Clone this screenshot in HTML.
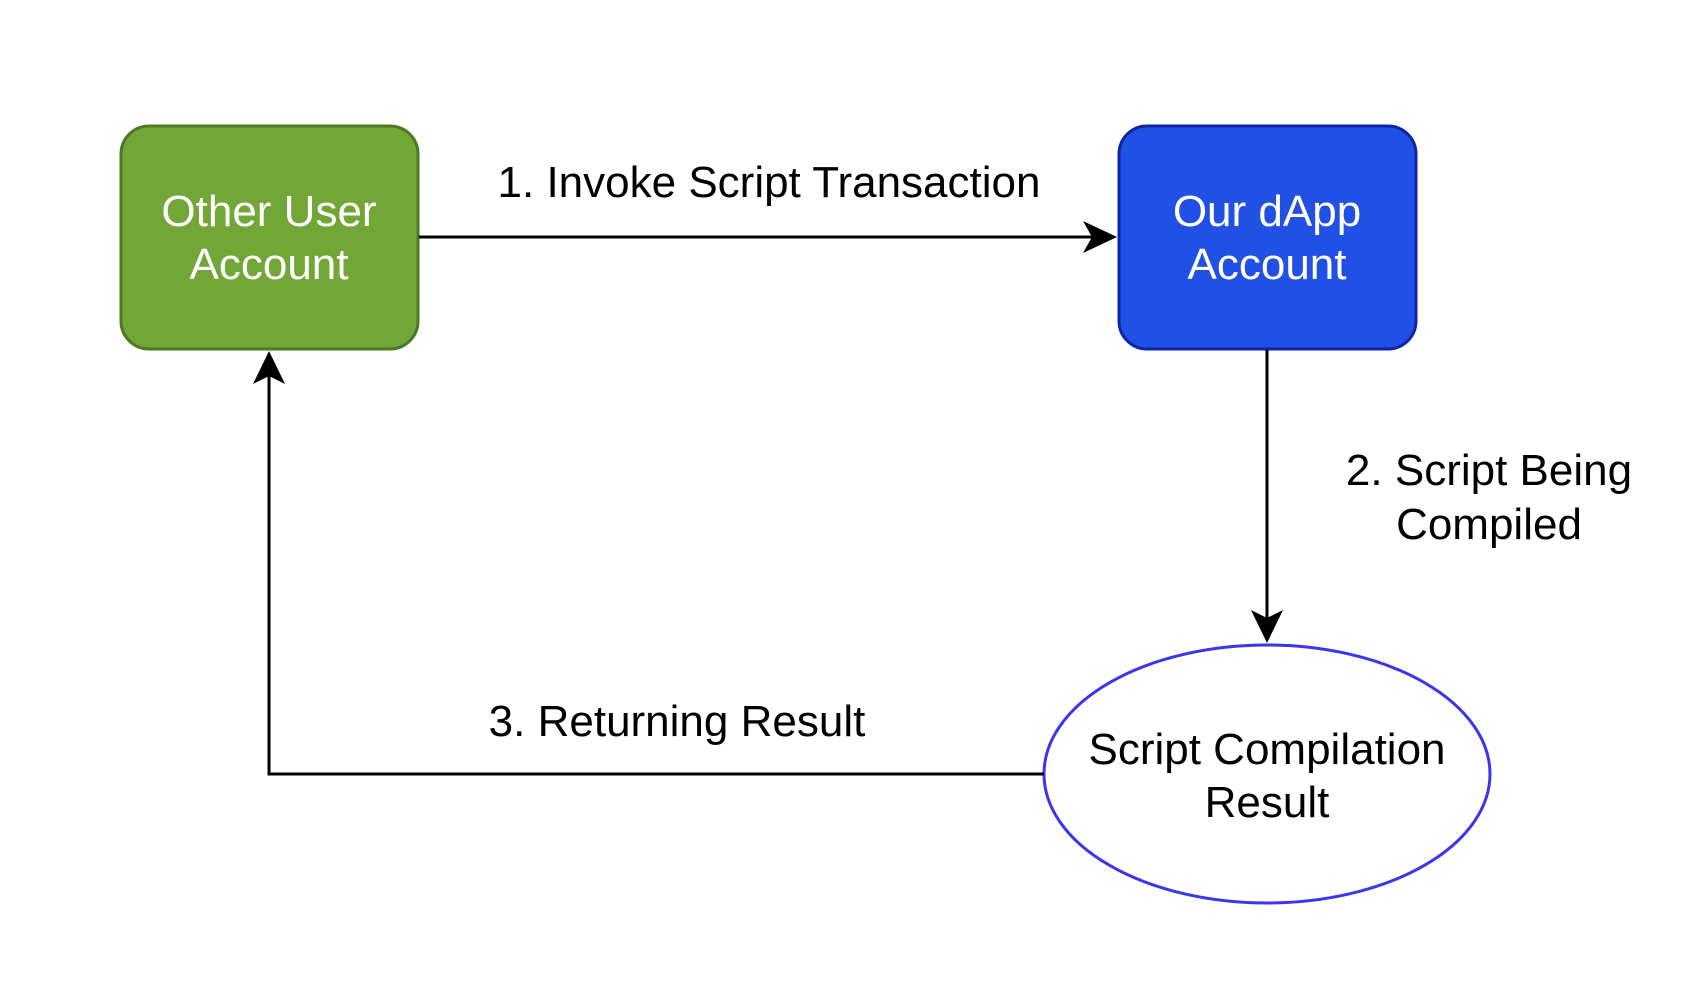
<!DOCTYPE html>
<html><head><style>
html,body{margin:0;padding:0;background:#fff;}
svg{display:block;}
text{font-family:"Liberation Sans",Arial,sans-serif;font-size:44px;text-anchor:middle;}
</style></head><body>
<svg width="1702" height="982" viewBox="0 0 1702 982" xmlns="http://www.w3.org/2000/svg">
<rect x="0" y="0" width="1702" height="982" fill="#fff"/>
<rect x="121" y="126" width="297" height="223" rx="28" fill="#72a637" stroke="#4b7a22" stroke-width="3"/>
<rect x="1119" y="126" width="297" height="223" rx="28" fill="#2150e4" stroke="#0d24a8" stroke-width="3"/>
<ellipse cx="1267" cy="774" rx="223" ry="129" fill="#fff" stroke="#3a36ee" stroke-width="3"/>
<g stroke="#000" stroke-width="3" fill="none">
<line x1="419" y1="237" x2="1095" y2="237"/>
<line x1="1267" y1="350" x2="1267" y2="627"/>
<polyline points="1044,774 269,774 269,370"/>
</g>
<g fill="#000">
<polygon points="1117,237 1083,221 1092,237 1083,253"/>
<polygon points="1267,643 1251,610 1267,618 1283,610"/>
<polygon points="269,351 253,384 269,376 285,384"/>
</g>
<g fill="#fff">
<text x="269" y="226">Other User</text>
<text x="269" y="279">Account</text>
<text x="1267" y="226">Our dApp</text>
<text x="1267" y="279">Account</text>
</g>
<g fill="#000">
<text x="769" y="197">1. Invoke Script Transaction</text>
<text x="1489" y="485">2. Script Being</text>
<text x="1489" y="539">Compiled</text>
<text x="677" y="736">3. Returning Result</text>
<text x="1267" y="764">Script Compilation</text>
<text x="1267" y="817">Result</text>
</g>
</svg>
</body></html>
